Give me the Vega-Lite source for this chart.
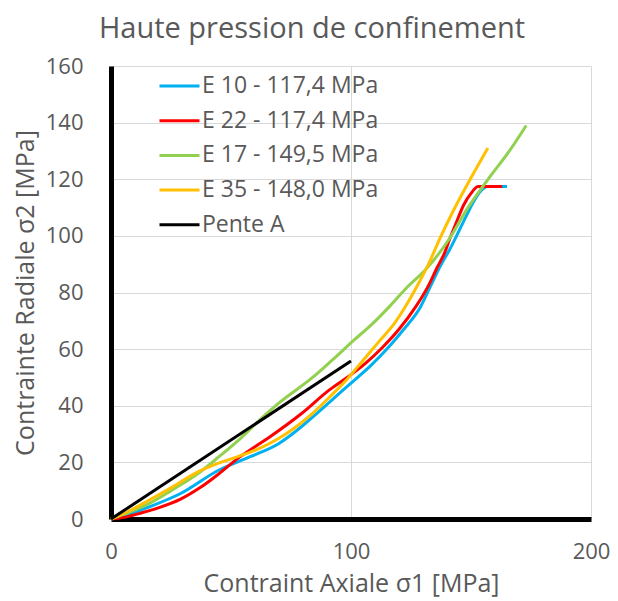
{
  "$schema": "https://vega.github.io/schema/vega-lite/v6.json",
  "width": 480,
  "height": 453,
  "autosize": {"type": "none"},
  "padding": {"left": 111, "top": 66, "right": 27, "bottom": 82},
  "background": "white",
  "config": {
    "font": "Open Sans",
    "view": {"stroke": null}
  },
  "title": {
    "text": "Haute pression de confinement",
    "fontSize": 29,
    "font": "Open Sans",
    "fontWeight": "normal",
    "color": "#595959",
    "anchor": "middle",
    "frame": "group",
    "dx": -39,
    "offset": 11
  },
  "datasets": {
    "curves": [
      {"s": "E 10 - 117,4 MPa", "i": 0, "x": 0, "y": 0},
      {"s": "E 10 - 117,4 MPa", "i": 1, "x": 8, "y": 1.8},
      {"s": "E 10 - 117,4 MPa", "i": 2, "x": 16, "y": 4.3},
      {"s": "E 10 - 117,4 MPa", "i": 3, "x": 29, "y": 9},
      {"s": "E 10 - 117,4 MPa", "i": 4, "x": 45, "y": 17.3},
      {"s": "E 10 - 117,4 MPa", "i": 5, "x": 58, "y": 22},
      {"s": "E 10 - 117,4 MPa", "i": 6, "x": 70, "y": 26.7},
      {"s": "E 10 - 117,4 MPa", "i": 7, "x": 77, "y": 31},
      {"s": "E 10 - 117,4 MPa", "i": 8, "x": 84, "y": 36},
      {"s": "E 10 - 117,4 MPa", "i": 9, "x": 92, "y": 42},
      {"s": "E 10 - 117,4 MPa", "i": 10, "x": 100, "y": 48},
      {"s": "E 10 - 117,4 MPa", "i": 11, "x": 108, "y": 54},
      {"s": "E 10 - 117,4 MPa", "i": 12, "x": 116, "y": 61},
      {"s": "E 10 - 117,4 MPa", "i": 13, "x": 122, "y": 67},
      {"s": "E 10 - 117,4 MPa", "i": 14, "x": 129, "y": 75},
      {"s": "E 10 - 117,4 MPa", "i": 15, "x": 133, "y": 82},
      {"s": "E 10 - 117,4 MPa", "i": 16, "x": 137, "y": 89},
      {"s": "E 10 - 117,4 MPa", "i": 17, "x": 141, "y": 95},
      {"s": "E 10 - 117,4 MPa", "i": 18, "x": 144, "y": 100},
      {"s": "E 10 - 117,4 MPa", "i": 19, "x": 148, "y": 107},
      {"s": "E 10 - 117,4 MPa", "i": 20, "x": 151, "y": 112},
      {"s": "E 10 - 117,4 MPa", "i": 21, "x": 154, "y": 115.8},
      {"s": "E 10 - 117,4 MPa", "i": 22, "x": 157, "y": 117.4},
      {"s": "E 10 - 117,4 MPa", "i": 23, "x": 165, "y": 117.4},
      {"s": "E 22 - 117,4 MPa", "i": 0, "x": 0, "y": 0},
      {"s": "E 22 - 117,4 MPa", "i": 1, "x": 5, "y": 0.5},
      {"s": "E 22 - 117,4 MPa", "i": 2, "x": 12, "y": 2},
      {"s": "E 22 - 117,4 MPa", "i": 3, "x": 20, "y": 4},
      {"s": "E 22 - 117,4 MPa", "i": 4, "x": 29, "y": 7},
      {"s": "E 22 - 117,4 MPa", "i": 5, "x": 37, "y": 11},
      {"s": "E 22 - 117,4 MPa", "i": 6, "x": 45, "y": 16},
      {"s": "E 22 - 117,4 MPa", "i": 7, "x": 53, "y": 21.5},
      {"s": "E 22 - 117,4 MPa", "i": 8, "x": 60, "y": 25.5},
      {"s": "E 22 - 117,4 MPa", "i": 9, "x": 67, "y": 29.5},
      {"s": "E 22 - 117,4 MPa", "i": 10, "x": 79, "y": 37},
      {"s": "E 22 - 117,4 MPa", "i": 11, "x": 91, "y": 45.6},
      {"s": "E 22 - 117,4 MPa", "i": 12, "x": 100, "y": 51},
      {"s": "E 22 - 117,4 MPa", "i": 13, "x": 106, "y": 55},
      {"s": "E 22 - 117,4 MPa", "i": 14, "x": 113, "y": 60.5},
      {"s": "E 22 - 117,4 MPa", "i": 15, "x": 120, "y": 67},
      {"s": "E 22 - 117,4 MPa", "i": 16, "x": 127, "y": 75},
      {"s": "E 22 - 117,4 MPa", "i": 17, "x": 132, "y": 82},
      {"s": "E 22 - 117,4 MPa", "i": 18, "x": 136, "y": 89},
      {"s": "E 22 - 117,4 MPa", "i": 19, "x": 139, "y": 94},
      {"s": "E 22 - 117,4 MPa", "i": 20, "x": 141, "y": 98.6},
      {"s": "E 22 - 117,4 MPa", "i": 21, "x": 144, "y": 105},
      {"s": "E 22 - 117,4 MPa", "i": 22, "x": 147, "y": 111},
      {"s": "E 22 - 117,4 MPa", "i": 23, "x": 150, "y": 115},
      {"s": "E 22 - 117,4 MPa", "i": 24, "x": 153, "y": 117.4},
      {"s": "E 22 - 117,4 MPa", "i": 25, "x": 163, "y": 117.4},
      {"s": "E 17 - 149,5 MPa", "i": 0, "x": 0, "y": 0},
      {"s": "E 17 - 149,5 MPa", "i": 1, "x": 8, "y": 2.5},
      {"s": "E 17 - 149,5 MPa", "i": 2, "x": 16, "y": 5.5},
      {"s": "E 17 - 149,5 MPa", "i": 3, "x": 25, "y": 10},
      {"s": "E 17 - 149,5 MPa", "i": 4, "x": 37, "y": 16.5},
      {"s": "E 17 - 149,5 MPa", "i": 5, "x": 45, "y": 22},
      {"s": "E 17 - 149,5 MPa", "i": 6, "x": 54, "y": 28.5},
      {"s": "E 17 - 149,5 MPa", "i": 7, "x": 62, "y": 35},
      {"s": "E 17 - 149,5 MPa", "i": 8, "x": 70, "y": 41},
      {"s": "E 17 - 149,5 MPa", "i": 9, "x": 84, "y": 50},
      {"s": "E 17 - 149,5 MPa", "i": 10, "x": 92, "y": 56},
      {"s": "E 17 - 149,5 MPa", "i": 11, "x": 101, "y": 63},
      {"s": "E 17 - 149,5 MPa", "i": 12, "x": 109, "y": 69},
      {"s": "E 17 - 149,5 MPa", "i": 13, "x": 116, "y": 75},
      {"s": "E 17 - 149,5 MPa", "i": 14, "x": 123, "y": 81.5},
      {"s": "E 17 - 149,5 MPa", "i": 15, "x": 131, "y": 88},
      {"s": "E 17 - 149,5 MPa", "i": 16, "x": 141, "y": 99},
      {"s": "E 17 - 149,5 MPa", "i": 17, "x": 148, "y": 109},
      {"s": "E 17 - 149,5 MPa", "i": 18, "x": 158, "y": 121},
      {"s": "E 17 - 149,5 MPa", "i": 19, "x": 166, "y": 130},
      {"s": "E 17 - 149,5 MPa", "i": 20, "x": 173, "y": 139},
      {"s": "E 35 - 148,0 MPa", "i": 0, "x": 0, "y": 0},
      {"s": "E 35 - 148,0 MPa", "i": 1, "x": 8, "y": 3},
      {"s": "E 35 - 148,0 MPa", "i": 2, "x": 16, "y": 6.7},
      {"s": "E 35 - 148,0 MPa", "i": 3, "x": 25, "y": 11},
      {"s": "E 35 - 148,0 MPa", "i": 4, "x": 37, "y": 17},
      {"s": "E 35 - 148,0 MPa", "i": 5, "x": 44, "y": 19.5},
      {"s": "E 35 - 148,0 MPa", "i": 6, "x": 51, "y": 21.5},
      {"s": "E 35 - 148,0 MPa", "i": 7, "x": 61, "y": 24.6},
      {"s": "E 35 - 148,0 MPa", "i": 8, "x": 70, "y": 28.5},
      {"s": "E 35 - 148,0 MPa", "i": 9, "x": 77, "y": 32.5},
      {"s": "E 35 - 148,0 MPa", "i": 10, "x": 84, "y": 37.3},
      {"s": "E 35 - 148,0 MPa", "i": 11, "x": 91, "y": 43},
      {"s": "E 35 - 148,0 MPa", "i": 12, "x": 98, "y": 49},
      {"s": "E 35 - 148,0 MPa", "i": 13, "x": 105, "y": 56},
      {"s": "E 35 - 148,0 MPa", "i": 14, "x": 112, "y": 63},
      {"s": "E 35 - 148,0 MPa", "i": 15, "x": 118, "y": 69},
      {"s": "E 35 - 148,0 MPa", "i": 16, "x": 123, "y": 75.5},
      {"s": "E 35 - 148,0 MPa", "i": 17, "x": 128, "y": 83},
      {"s": "E 35 - 148,0 MPa", "i": 18, "x": 132, "y": 89.5},
      {"s": "E 35 - 148,0 MPa", "i": 19, "x": 137, "y": 99},
      {"s": "E 35 - 148,0 MPa", "i": 20, "x": 143, "y": 109.5},
      {"s": "E 35 - 148,0 MPa", "i": 21, "x": 150, "y": 120.5},
      {"s": "E 35 - 148,0 MPa", "i": 22, "x": 157, "y": 131},
      {"s": "Pente A", "i": 0, "x": 0, "y": 0},
      {"s": "Pente A", "i": 1, "x": 100, "y": 55.8}
    ]
  },
  "data": {"name": "curves"},
  "mark": {"type": "line", "strokeWidth": 3, "strokeCap": "butt", "strokeJoin": "round", "interpolate": "monotone"},
  "encoding": {
    "x": {
      "field": "x",
      "type": "quantitative",
      "scale": {"domain": [0, 200], "nice": false},
      "axis": {
        "title": "Contraint Axiale σ1 [MPa]",
        "values": [0, 100, 200],
        "labelFlush": false,
        "grid": true,
        "gridColor": "#D9D9D9",
        "gridWidth": 1,
        "domainColor": "#000000",
        "domainWidth": 5,
        "ticks": false,
        "labelFontSize": 22,
        "labelColor": "#595959",
        "labelPadding": 22,
        "titleFontSize": 25,
        "titleFontWeight": "normal",
        "titleColor": "#595959",
        "titlePadding": 9
      }
    },
    "y": {
      "field": "y",
      "type": "quantitative",
      "scale": {"domain": [0, 160], "nice": false},
      "axis": {
        "title": "Contrainte Radiale σ2 [MPa]",
        "values": [0, 20, 40, 60, 80, 100, 120, 140, 160],
        "labelFlush": false,
        "grid": true,
        "gridColor": "#D9D9D9",
        "gridWidth": 1,
        "domainColor": "#000000",
        "domainWidth": 5,
        "ticks": false,
        "labelFontSize": 22,
        "labelColor": "#595959",
        "labelPadding": 28,
        "titleFontSize": 25,
        "titleFontWeight": "normal",
        "titleColor": "#595959",
        "titlePadding": 7
      }
    },
    "color": {
      "field": "s",
      "type": "nominal",
      "scale": {
        "domain": ["E 10 - 117,4 MPa", "E 22 - 117,4 MPa", "E 17 - 149,5 MPa", "E 35 - 148,0 MPa", "Pente A"],
        "range": ["#00B0F0", "#FF0000", "#92D050", "#FFC000", "#000000"]
      },
      "legend": {
        "title": null,
        "orient": "none",
        "legendX": 47,
        "legendY": 3,
        "symbolType": "stroke",
        "symbolSize": 1600,
        "symbolStrokeWidth": 3,
        "clipHeight": 34,
        "rowPadding": 0.7,
        "labelFontSize": 23,
        "labelLimit": 400,
        "labelColor": "#595959",
        "labelOffset": 1
      }
    },
    "order": {"field": "i", "type": "quantitative"}
  }
}
